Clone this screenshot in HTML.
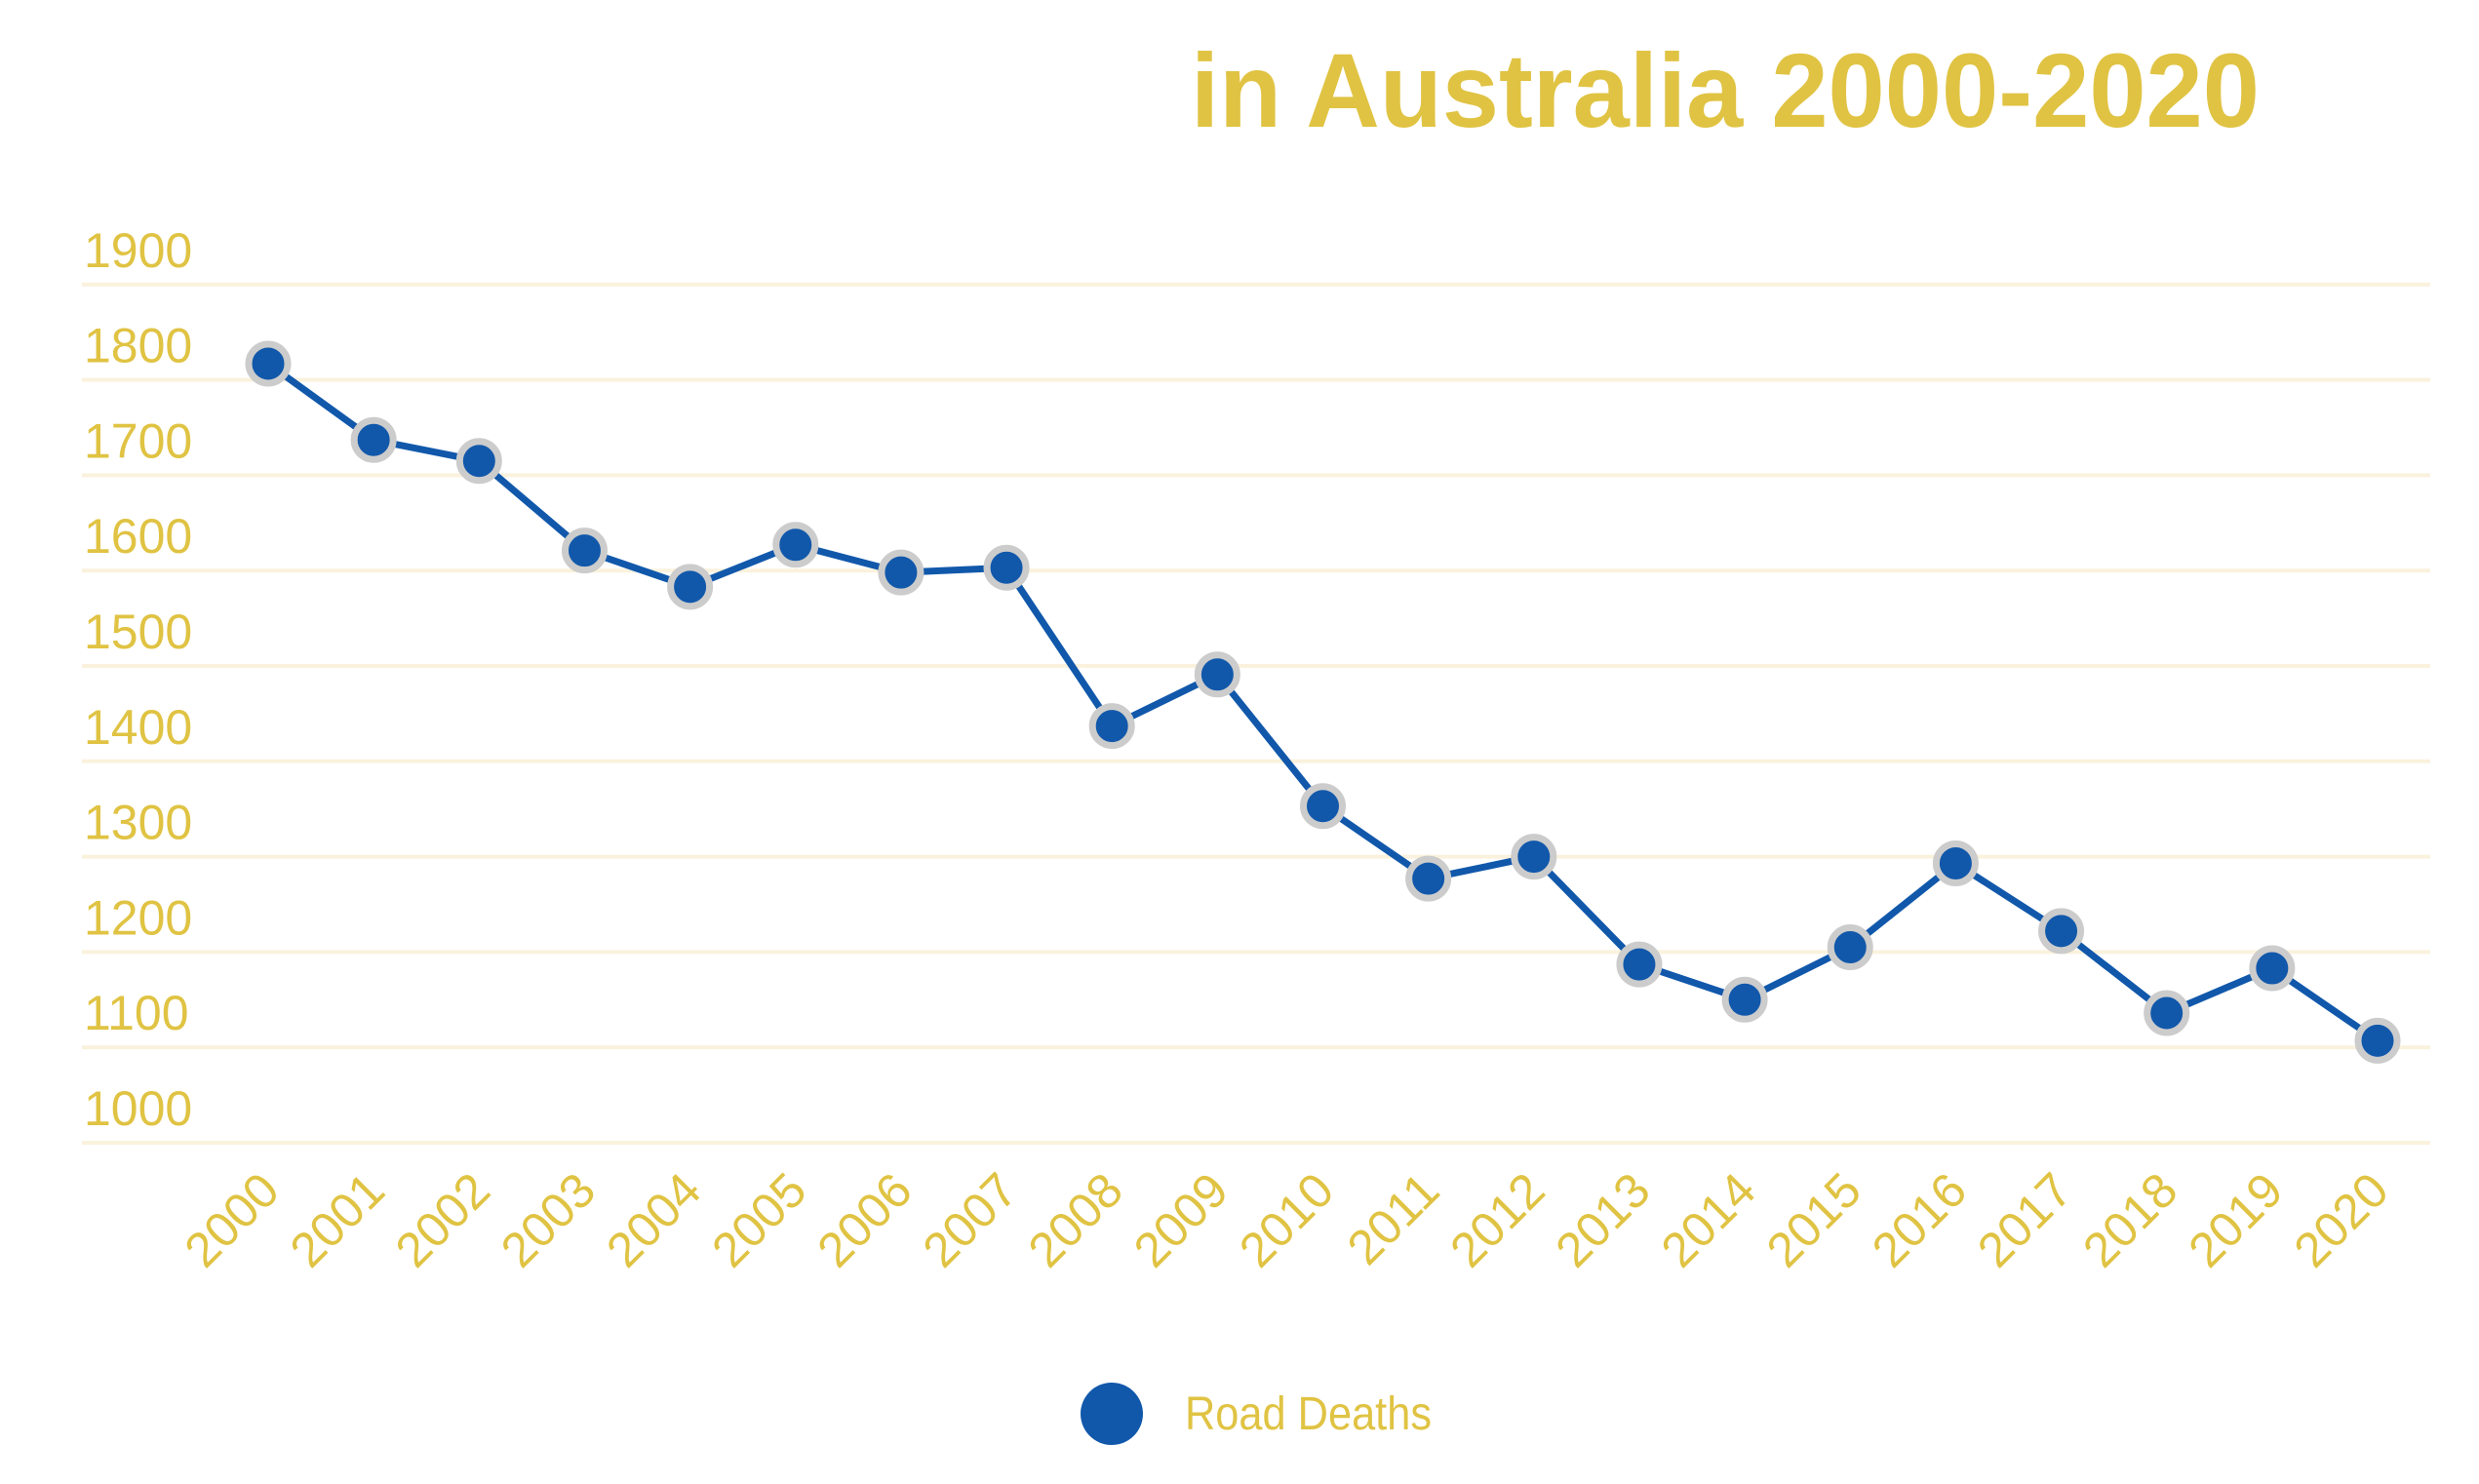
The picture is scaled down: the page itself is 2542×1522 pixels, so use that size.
<!DOCTYPE html>
<html><head><meta charset="utf-8"><style>html,body{margin:0;padding:0;background:#fff}svg{display:block}</style></head>
<body>
<svg width="2542" height="1522" viewBox="0 0 2542 1522" xmlns="http://www.w3.org/2000/svg" font-family="'Liberation Sans', sans-serif">
<text x="1221" y="130" font-size="108" font-weight="bold" fill="#e0c343" textLength="1096" lengthAdjust="spacingAndGlyphs">in Australia 2000-2020</text>
<g id="grid" stroke="#faf2dd" stroke-width="4">
<line x1="84" x2="2492" y1="1172" y2="1172"/>
<line x1="84" x2="2492" y1="1074.2" y2="1074.2"/>
<line x1="84" x2="2492" y1="976.4" y2="976.4"/>
<line x1="84" x2="2492" y1="878.6" y2="878.6"/>
<line x1="84" x2="2492" y1="780.8" y2="780.8"/>
<line x1="84" x2="2492" y1="683" y2="683"/>
<line x1="84" x2="2492" y1="585.2" y2="585.2"/>
<line x1="84" x2="2492" y1="487.4" y2="487.4"/>
<line x1="84" x2="2492" y1="389.6" y2="389.6"/>
<line x1="84" x2="2492" y1="291.8" y2="291.8"/>
</g>
<g fill="#e0c343" font-size="50">
<text x="86" y="1154">1000</text>
<text x="86" y="1056.2">1100</text>
<text x="86" y="958.4">1200</text>
<text x="86" y="860.6">1300</text>
<text x="86" y="762.8">1400</text>
<text x="86" y="665">1500</text>
<text x="86" y="567.2">1600</text>
<text x="86" y="469.4">1700</text>
<text x="86" y="371.6">1800</text>
<text x="86" y="273.8">1900</text>
</g>
<g id="xl" fill="#e0c343" font-size="50" text-anchor="end"></g>
<polyline id="ln" fill="none" stroke="#1158ab" stroke-width="7" stroke-linejoin="round" points=""/>
<g id="mk"></g>
<circle cx="1140" cy="1450" r="32" fill="#1158ab"/>
<text x="1215" y="1466" font-size="48" fill="#e0c343" textLength="253" lengthAdjust="spacingAndGlyphs">Road Deaths</text>
<script>
var v=[1817,1737,1715,1621,1583,1627,1598,1603,1437,1491,1353,1277,1300,1187,1150,1205,1293,1222,1136,1183,1107];
var ns="http://www.w3.org/2000/svg",pts=[],mk=document.getElementById('mk'),xl=document.getElementById('xl');
v.forEach(function(d,i){var x=275+i*108.15,y=1172-(d-1000)*0.978;pts.push(x+','+y);
var c=document.createElementNS(ns,'circle');c.setAttribute('cx',x);c.setAttribute('cy',y);c.setAttribute('r',20);c.setAttribute('fill','#1158ab');c.setAttribute('stroke','#cccccc');c.setAttribute('stroke-width','7');mk.appendChild(c);
var t=document.createElementNS(ns,'text');var tx=x+14,ty=1224;t.setAttribute('x',tx);t.setAttribute('y',ty);t.setAttribute('transform','rotate(-45 '+tx+' '+ty+')');t.textContent=2000+i;xl.appendChild(t);});
document.getElementById('ln').setAttribute('points',pts.join(' '));
</script>
</svg>
</body></html>
